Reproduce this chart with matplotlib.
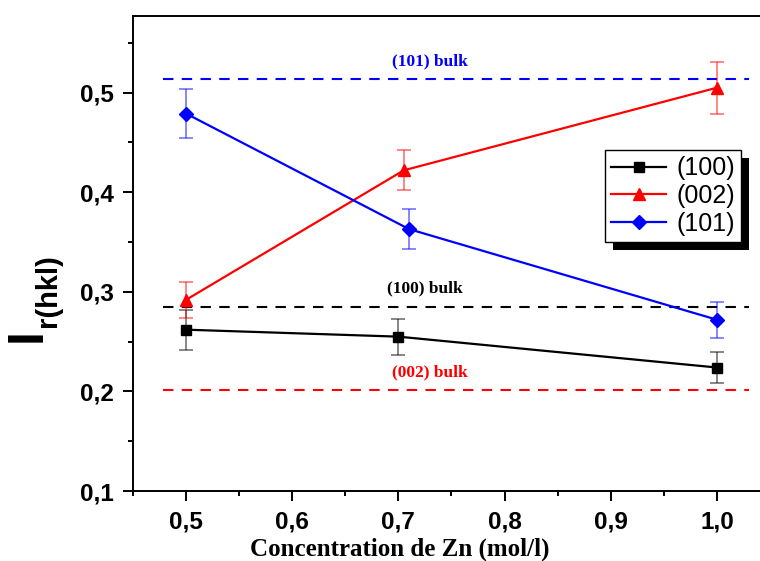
import matplotlib
matplotlib.use("Agg")
import matplotlib.pyplot as plt
from matplotlib.patches import Rectangle
from matplotlib.transforms import IdentityTransform
from matplotlib.ticker import MultipleLocator, FuncFormatter

# Relative intensity of ZnO reflections vs Zn concentration
conc_100 = [0.5, 0.70, 1.0]
conc_002 = [0.5, 0.705, 1.0]
conc_101 = [0.5, 0.71, 1.0]

i_100 = [0.262, 0.255, 0.224]
e_100 = [0.020, 0.018, 0.016]
i_002 = [0.292, 0.422, 0.505]
e_002 = [0.018, 0.020, 0.026]
i_101 = [0.479, 0.363, 0.272]
e_101 = [0.025, 0.020, 0.018]

labels = ["(100)", "(002)", "(101)"]
colors = ["black", "red", "blue"]
markers = ["s", "^", "D"]
marker_sizes = [7, 9, 7.5]

# Bulk (powder reference) intensities
bulk_values = [0.285, 0.201, 0.5135]
bulk_labels = ["(100) bulk", "(002) bulk", "(101) bulk"]
bulk_span = (0.478, 1.03)
bulk_label_x = [0.725, 0.73, 0.73]

xticks = [0.5, 0.6, 0.7, 0.8, 0.9, 1.0]
yticks = [0.1, 0.2, 0.3, 0.4, 0.5]

fig = plt.figure(figsize=(7.6, 5.61), dpi=100)
ax = fig.add_axes([133 / 760, 70 / 561, 637 / 760, 475 / 561])

series = [(conc_100, i_100, e_100), (conc_002, i_002, e_002), (conc_101, i_101, e_101)]
for (x, y, e), lab, c, m, ms in zip(series, labels, colors, markers, marker_sizes):
    ax.errorbar(x, y, yerr=e, fmt="none", ecolor=c, alpha=0.55, elinewidth=1.2,
                capsize=5, capthick=1.2, zorder=2)
    ax.plot(x, y, color=c, marker=m, markersize=ms, linewidth=1.6, label=lab, zorder=3)

for val, lab, c, lx in zip(bulk_values, bulk_labels, ["black", "red", "blue"], bulk_label_x):
    ax.plot(bulk_span, [val, val], color=c, linestyle=(0, (5, 4)), linewidth=1.5, zorder=1)
    ax.text(lx, val + 0.010, lab, color=c, ha="center", va="bottom",
            family="Liberation Serif", fontweight="bold", fontsize=12.5)

ax.set_xlim(0.45, 1.05)
ax.set_ylim(0.1, 0.577)
ax.set_xticks(xticks)
ax.set_yticks(yticks)
ax.xaxis.set_minor_locator(MultipleLocator(0.05))
ax.yaxis.set_minor_locator(MultipleLocator(0.05))
comma = FuncFormatter(lambda v, p: f"{v:.1f}".replace(".", ","))
ax.xaxis.set_major_formatter(comma)
ax.yaxis.set_major_formatter(comma)
ax.tick_params(which="major", direction="out", length=7, width=1.4, labelsize=17.5, pad=7)
ax.tick_params(which="minor", direction="out", length=3.6, width=1.4)
ax.tick_params(top=False, right=False)
for t in ax.get_xticklabels() + ax.get_yticklabels():
    t.set_family("Liberation Sans")
    t.set_fontweight("bold")
for s in ax.spines.values():
    s.set_linewidth(1.4)

fig.text(400 / 760, 1 - 549 / 561, "Concentration de Zn (mol/l)", ha="center", va="center",
         family="Liberation Serif", fontweight="bold", fontsize=18)
fig.text(28 / 760, 1 - 335 / 561, "I", rotation=90, ha="center", va="center",
         family="Liberation Sans", fontweight="bold", fontsize=36)
fig.text(48 / 760, 1 - 291 / 561, "r(hkl)", rotation=90, ha="center", va="center",
         family="Liberation Sans", fontweight="bold", fontsize=21)

leg = ax.legend(loc="upper left", bbox_to_anchor=((605 - 133) / 637, (561 - 70 - 150) / 475),
                frameon=True, fancybox=False, framealpha=1, edgecolor="black",
                prop={"family": "Liberation Sans", "size": 18}, handlelength=2.2,
                borderpad=0.25, labelspacing=0.15, handletextpad=0.4, borderaxespad=0)
leg.get_frame().set_linewidth(1.0)
leg.set_zorder(6)

fig.canvas.draw()
bb = leg.get_window_extent()
ax.add_patch(Rectangle((bb.x0 + 8, bb.y0 - 8), bb.width, bb.height, facecolor="black",
                       edgecolor="none", transform=IdentityTransform(), clip_on=False, zorder=5))

fig.savefig("out.png", dpi=100)
